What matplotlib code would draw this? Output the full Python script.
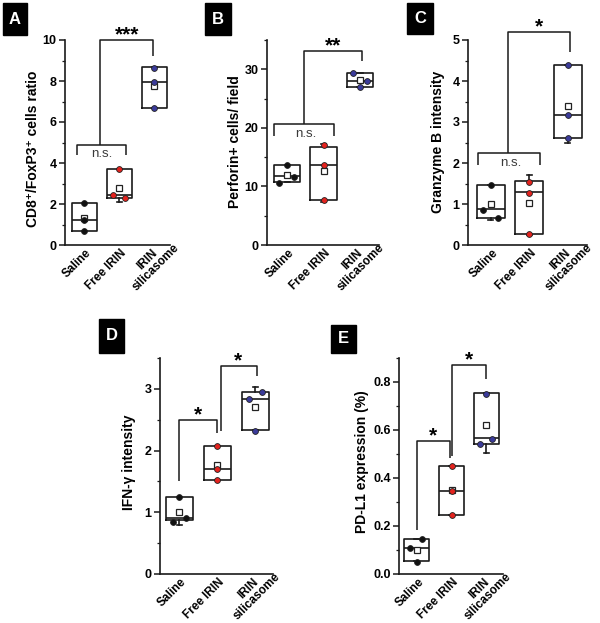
import matplotlib
matplotlib.use('Agg')
import matplotlib.pyplot as plt
from matplotlib.patches import Rectangle
from matplotlib.ticker import MultipleLocator
from matplotlib.transforms import ScaledTranslation

plt.rcParams['font.family'] = ['Liberation Sans', 'DejaVu Sans']
plt.rcParams['font.weight'] = 'bold'

# ---------------- data ----------------
groups = ['Saline', 'Free IRIN', 'IRIN\nsilicasome']
point_colors = ['#111111', '#e3231e', '#3b3b9a']

# Panel A: CD8+/FoxP3+ ratio
a_q1 = [0.70, 2.30, 6.70]
a_med = [1.20, 2.45, 7.95]
a_q3 = [2.05, 3.70, 8.70]
a_mean = [1.30, 2.80, 7.75]
a_wlo = [0.70, 2.10, 6.70]
a_whi = [2.05, 3.70, 8.70]
a_pts = [[2.05, 1.20, 0.68], [3.70, 2.43, 2.28], [8.65, 7.95, 6.70]]

# Panel B: Perforin+ cells/field
b_q1 = [10.7, 7.6, 27.0]
b_med = [11.7, 13.7, 28.0]
b_q3 = [13.7, 16.8, 29.3]
b_mean = [12.0, 12.7, 28.1]
b_wlo = [10.7, 7.4, 27.0]
b_whi = [13.7, 17.2, 29.3]
b_pts = [[13.7, 10.6, 11.6], [17.0, 13.7, 7.6], [29.3, 27.0, 28.0]]

# Panel C: Granzyme B intensity
c_q1 = [0.67, 0.27, 2.62]
c_med = [0.87, 1.30, 3.18]
c_q3 = [1.47, 1.55, 4.38]
c_mean = [1.00, 1.03, 3.38]
c_wlo = [0.60, 0.25, 2.50]
c_whi = [1.47, 1.70, 4.38]
c_pts = [[1.47, 0.86, 0.66], [1.53, 1.28, 0.27], [4.38, 3.18, 2.60]]

# Panel D: IFN-gamma intensity
d_q1 = [0.87, 1.53, 2.33]
d_med = [0.90, 1.70, 2.84]
d_q3 = [1.25, 2.08, 2.95]
d_mean = [1.00, 1.77, 2.70]
d_wlo = [0.79, 1.53, 2.33]
d_whi = [1.25, 2.08, 3.03]
d_pts = [[1.24, 0.85, 0.90], [2.08, 1.70, 1.53], [2.84, 2.32, 2.95]]

# Panel E: PD-L1 expression (%)
e_q1 = [0.055, 0.245, 0.540]
e_med = [0.108, 0.345, 0.565]
e_q3 = [0.145, 0.450, 0.755]
e_mean = [0.100, 0.350, 0.620]
e_wlo = [0.055, 0.245, 0.505]
e_whi = [0.145, 0.450, 0.755]
e_pts = [[0.145, 0.108, 0.052], [0.450, 0.345, 0.245], [0.750, 0.540, 0.563]]

# ---------------- layout ----------------
W, H = 600, 623
fig = plt.figure(figsize=(W / 100, H / 100), dpi=100)

panels = [
    dict(letter='A', box=(3, 3, 27, 35), ax=(65, 40, 170, 245), xlim=(0.45, 3.45),
         ylim=(0, 10), major=2, minor=1, fmt='{:.0f}',
         ylabel='CD8\u207a/FoxP3\u207a cells ratio', ylab_xy=(33, 149),
         stats=(a_q1, a_med, a_q3, a_mean, a_wlo, a_whi, a_pts),
         jit=[[0, 0, 0], [0, -0.18, 0.17], [0, 0, 0]],
         ns=dict(legs=(0.78, 2.2), top=4.9, bot=4.4, txt=(1.5, 4.45)),
         conn=dict(x0=1.46, y0=4.9, top=10.0, x1=2.96, y1=9.2, star='***', sxy=(2.22, 10.0))),
    dict(letter='B', box=(205, 3, 231, 35), ax=(267, 40, 379, 245), xlim=(0.45, 3.52),
         ylim=(0, 35), major=10, minor=5, fmt='{:.0f}',
         ylabel='Perforin+ cells/ field', ylab_xy=(235, 142),
         stats=(b_q1, b_med, b_q3, b_mean, b_wlo, b_whi, b_pts),
         jit=[[0, -0.22, 0.18], [0, 0, 0], [-0.2, 0, 0.18]],
         ns=dict(legs=(0.65, 2.3), top=20.6, bot=18.6, txt=(1.52, 19.0)),
         conn=dict(x0=1.47, y0=20.6, top=33.2, x1=3.06, y1=31.4, star='**', sxy=(2.26, 33.2))),
    dict(letter='C', box=(407, 3, 433, 34), ax=(468, 40, 587, 245), xlim=(0.41, 3.5),
         ylim=(0, 5), major=1, minor=0.5, fmt='{:.0f}',
         ylabel='Granzyme B intensity', ylab_xy=(438, 142),
         stats=(c_q1, c_med, c_q3, c_mean, c_wlo, c_whi, c_pts),
         jit=[[0, -0.19, 0.18], [0, 0, 0], [0, 0, 0]],
         ns=dict(legs=(0.67, 2.29), top=2.24, bot=1.95, txt=(1.51, 2.0)),
         conn=dict(x0=1.46, y0=2.24, top=5.19, x1=3.07, y1=4.7, star='*', sxy=(2.24, 5.19))),
    dict(letter='D', box=(99, 319, 124, 353), ax=(160, 358, 273, 574), xlim=(0.49, 3.46),
         ylim=(0, 3.5), major=1, minor=0.5, fmt='{:.0f}',
         ylabel='IFN-\u03b3 intensity', ylab_xy=(129, 462),
         stats=(d_q1, d_med, d_q3, d_mean, d_wlo, d_whi, d_pts),
         jit=[[0, -0.17, 0.17], [0, 0, 0], [-0.18, 0, 0.16]],
         pairs=[dict(x=(1.0, 2.0), bots=(1.5, 2.28), top=2.5, sxy=(1.5, 2.5)),
                dict(x=(2.09, 3.04), bots=(2.31, 3.21), top=3.37, sxy=(2.55, 3.37))]),
    dict(letter='E', box=(331, 325, 356, 353), ax=(399, 358, 503, 574), xlim=(0.49, 3.48),
         ylim=(0, 0.9), major=0.2, minor=0.1, fmt='{:.1f}',
         ylabel='PD-L1 expression (%)', ylab_xy=(362, 462),
         stats=(e_q1, e_med, e_q3, e_mean, e_wlo, e_whi, e_pts),
         jit=[[0.16, -0.18, 0], [0, 0, 0], [0, -0.18, 0.17]],
         pairs=[dict(x=(1.0, 1.95), bots=(0.185, 0.483), top=0.553, sxy=(1.47, 0.553)),
                dict(x=(2.02, 3.0), bots=(0.49, 0.814), top=0.87, sxy=(2.5, 0.87))]),
]

LC = '#1a1a1a'
LW = 1.2
STAR_FS = 15

for p in panels:
    l, t, r, b = p['ax']
    ax = fig.add_axes([l / W, 1 - b / H, (r - l) / W, (b - t) / H])
    q1, med, q3, mean, wlo, whi, pts = p['stats']
    st = [dict(q1=q1[i], med=med[i], q3=q3[i], mean=mean[i], whislo=wlo[i],
               whishi=whi[i], fliers=[]) for i in range(3)]
    pos = [1, 2, 3]
    ax.bxp(st, positions=pos, widths=0.72, showmeans=True, showcaps=True,
           capwidths=0.14, manage_ticks=False,
           boxprops=dict(color=LC, lw=LW), medianprops=dict(color=LC, lw=LW),
           whiskerprops=dict(color=LC, lw=LW), capprops=dict(color=LC, lw=LW),
           meanprops=dict(marker='s', markerfacecolor='white', markeredgecolor='#222222',
                          markersize=5, markeredgewidth=0.9))
    for i in range(3):
        xs = [pos[i] + j for j in p['jit'][i]]
        ax.plot(xs, pts[i], 'o', color=point_colors[i], mec='#222222', mew=0.6,
                ms=4.2, zorder=4, linestyle='none')
    ax.set_xlim(*p['xlim'])
    ax.set_ylim(*p['ylim'])
    ax.spines['top'].set_visible(False)
    ax.spines['right'].set_visible(False)
    for s in ('left', 'bottom'):
        ax.spines[s].set_linewidth(1.2)
        ax.spines[s].set_color(LC)
    ax.set_xticks([])
    ax.yaxis.set_major_locator(MultipleLocator(p['major']))
    ax.yaxis.set_minor_locator(MultipleLocator(p['minor']))
    ticks = ax.get_yticks()
    ax.set_yticks([tk for tk in ticks if p['ylim'][0] - 1e-9 <= tk <= p['ylim'][1] + 1e-9])
    ax.set_yticklabels([p['fmt'].format(tk) for tk in ax.get_yticks()])
    ax.tick_params(axis='y', which='major', length=4, width=1.1, direction='out',
                   labelsize=9, pad=2, color=LC)
    ax.tick_params(axis='y', which='minor', length=2.2, width=0.9, direction='out', color=LC)
    for lab in ax.get_yticklabels():
        lab.set_fontweight('bold')

    # x category labels
    xtr = ax.get_xaxis_transform()
    for i, g in enumerate(groups):
        if '\n' in g:
            tx = ax.text(pos[i], 0, g, rotation=45, rotation_mode='anchor',
                         ha='center', va='center', multialignment='center', fontsize=8.5,
                         fontweight='bold', clip_on=False, linespacing=1.0)
            tx.set_transform(xtr + ScaledTranslation(-3 / 100, -18.5 / 100, fig.dpi_scale_trans))
        else:
            tx = ax.text(pos[i], 0, g, rotation=45, rotation_mode='anchor',
                         ha='right', va='top', fontsize=8.5, fontweight='bold', clip_on=False)
            tx.set_transform(xtr + ScaledTranslation(1 / 100, -2 / 100, fig.dpi_scale_trans))

    # significance brackets
    bk = dict(color=LC, lw=1.1, clip_on=False, solid_capstyle='butt')
    stars = []
    if 'ns' in p:
        ns = p['ns']
        x0, x1 = ns['legs']
        ax.plot([x0, x0, x1, x1], [ns['bot'], ns['top'], ns['top'], ns['bot']], **bk)
        ax.text(ns['txt'][0], ns['txt'][1], 'n.s.', ha='center', va='center',
                fontsize=9.5, fontweight='normal', color='#3a3a3a')
        c = p['conn']
        ax.plot([c['x0'], c['x0'], c['x1'], c['x1']], [c['y0'], c['top'], c['top'], c['y1']], **bk)
        stars.append((c['star'], c['sxy']))
    if 'pairs' in p:
        for pr in p['pairs']:
            x0, x1 = pr['x']
            ax.plot([x0, x0, x1, x1], [pr['bots'][0], pr['top'], pr['top'], pr['bots'][1]], **bk)
            stars.append(('*', pr['sxy']))
    for s, xy in stars:
        ax.annotate(s, xy, xytext=(0, -0.3), textcoords='offset points',
                    ha='center', va='baseline', fontsize=STAR_FS, fontweight='bold',
                    annotation_clip=False)

    # y label
    fig.text(p['ylab_xy'][0] / W, 1 - p['ylab_xy'][1] / H, p['ylabel'], rotation=90,
             ha='center', va='center', fontsize=10, fontweight='bold')

    # panel letter box
    bx0, by0, bx1, by1 = p['box']
    fig.patches.append(Rectangle((bx0 / W, 1 - by1 / H), (bx1 - bx0) / W, (by1 - by0) / H,
                                 transform=fig.transFigure, color='black', zorder=5))
    fig.text((bx0 + bx1) / 2 / W, 1 - (by0 + by1) / 2 / H, p['letter'], color='white',
             ha='center', va='center', fontsize=12, fontweight='bold', zorder=6)

fig.savefig('out.png', dpi=100)
